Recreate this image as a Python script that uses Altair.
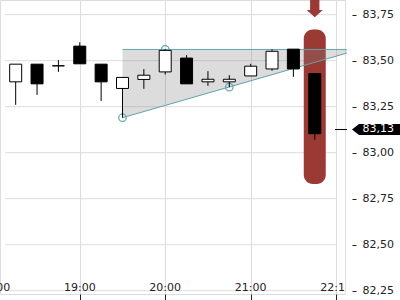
import altair as alt
import pandas as pd

# ---- data ----
times = ["18:15", "18:30", "18:45", "19:00", "19:15", "19:30", "19:45", "20:00",
         "20:15", "20:30", "20:45", "21:00", "21:15", "21:30", "21:45"]
opens = [83.385, 83.481, 83.472, 83.579, 83.481, 83.349, 83.398, 83.439,
         83.514, 83.385, 83.385, 83.417, 83.455, 83.5625, 83.430]
highs = [83.481, 83.481, 83.503, 83.600, 83.481, 83.409, 83.454, 83.562,
         83.530, 83.443, 83.421, 83.483, 83.561, 83.5625, 83.430]
lows = [83.260, 83.314, 83.439, 83.483, 83.281, 83.190, 83.347, 83.425,
        83.374, 83.363, 83.356, 83.417, 83.445, 83.412, 83.070]
closes = [83.481, 83.374, 83.472, 83.483, 83.385, 83.409, 83.421, 83.556,
          83.374, 83.399, 83.399, 83.470, 83.551, 83.455, 83.103]

x_tick_minutes = [0, 60, 120, 180, 240]
x_tick_labels = ["18:00", "19:00", "20:00", "21:00", "22:15"]
y_ticks = [82.25, 82.50, 82.75, 83.00, 83.25, 83.50, 83.75]

tri_minutes = [90, 247.5]
tri_top = [83.561, 83.561]
tri_bottom = [83.19, 83.541]

pivot_minutes = [90, 120, 165]
pivot_prices = [83.19, 83.561, 83.356]

highlight_time = "21:45"
highlight_top = 83.67
highlight_bottom = 82.83

last_price = 83.126


def to_min(t):
    h, m = t.split(":")
    return (int(h) - 18) * 60 + int(m)


candles = pd.DataFrame({
    "t": [to_min(t) for t in times],
    "open": opens, "high": highs, "low": lows, "close": closes,
})
candles["dir"] = ["up" if c >= o else "down" for o, c in zip(opens, closes)]

grid_df = pd.DataFrame({"v": y_ticks, "x0": 7.5, "x1": 240})
xlab_df = pd.DataFrame({"m": x_tick_minutes, "lbl": x_tick_labels})
tri_df = pd.DataFrame({"m": tri_minutes, "top": tri_top, "bottom": tri_bottom})
seg_df = pd.DataFrame({
    "m0": [tri_minutes[0], tri_minutes[0]], "m1": [tri_minutes[1], tri_minutes[1]],
    "p0": [tri_top[0], tri_bottom[0]], "p1": [tri_top[1], tri_bottom[1]],
})
piv_df = pd.DataFrame({"m": pivot_minutes, "p": pivot_prices})
hl_df = pd.DataFrame({"t": [to_min(highlight_time)], "top": [highlight_top],
                      "bottom": [highlight_bottom]})
price_df = pd.DataFrame({"p": [last_price]})

RED = "#9b3a34"
TEAL = "#62a3ab"
GRID = "#dcdcdc"
FONT = "DejaVu Sans"

xs = alt.Scale(domain=[7.5, 242.73], nice=False, zero=False)
ys = alt.Scale(domain=[82.232, 83.8297], nice=False, zero=False)

xaxis = alt.Axis(values=x_tick_minutes[1:], labels=False, domain=False, ticks=True,
                 tickSize=6, tickColor="#222", grid=True, gridColor=GRID, title=None)
yaxis = alt.Axis(orient="right", values=y_ticks, offset=7, tickSize=4, labelPadding=6,
                 domain=False, grid=False, tickColor="#222", labelColor="#222",
                 labelFont=FONT, labelFontSize=11, labelOverlap=False,
                 labelExpr="replace(format(datum.value, '.2f'), '.', ',')", title=None)

grid = alt.Chart(grid_df).mark_rule(color=GRID, strokeWidth=1).encode(
    x=alt.X("x0:Q", scale=xs, axis=xaxis),
    x2="x1:Q",
    y=alt.Y("v:Q", scale=ys, axis=yaxis),
)

highlight = alt.Chart(hl_df).mark_bar(color=RED, size=22, cornerRadius=9).encode(
    x=alt.X("t:Q", scale=xs), y=alt.Y("top:Q", scale=ys), y2="bottom:Q"
)

tri = alt.Chart(tri_df).mark_area(color="#808080", opacity=0.28, clip=False).encode(
    x=alt.X("m:Q", scale=xs), y=alt.Y("top:Q", scale=ys), y2="bottom:Q"
)

segs = alt.Chart(seg_df).mark_rule(color=TEAL, strokeWidth=1).encode(
    x=alt.X("m0:Q", scale=xs), x2="m1:Q", y=alt.Y("p0:Q", scale=ys), y2="p1:Q"
)

pivots = alt.Chart(piv_df).mark_point(shape="circle", size=56, filled=False,
                                      color=TEAL, strokeWidth=1.2, opacity=1).encode(
    x=alt.X("m:Q", scale=xs), y=alt.Y("p:Q", scale=ys)
)

wicks = alt.Chart(candles).mark_rule(color="black", strokeWidth=1).encode(
    x=alt.X("t:Q", scale=xs), y=alt.Y("low:Q", scale=ys), y2="high:Q"
)

bodies = alt.Chart(candles).mark_bar(size=12, stroke="black", strokeWidth=1).encode(
    x=alt.X("t:Q", scale=xs), y=alt.Y("open:Q", scale=ys), y2="close:Q",
    color=alt.Color("dir:N", scale=alt.Scale(domain=["up", "down"], range=["white", "black"]),
                    legend=None),
)

price_tick = alt.Chart(price_df).mark_rule(color="black", strokeWidth=1).encode(
    x=alt.value(335), x2=alt.value(347), y=alt.Y("p:Q", scale=ys)
)

TAG = "M-1,0L-0.708,-0.229L1,-0.229L1,0.229L-0.708,0.229Z"
tag = alt.Chart(price_df).mark_point(shape=TAG, size=2304, filled=True, color="black",
                                     opacity=1, strokeWidth=0).encode(
    x=alt.value(376), y=alt.Y("p:Q", scale=ys)
)

tag_text = alt.Chart(price_df).transform_calculate(
    lbl="replace(format(datum.p, '.2f'), '.', ',')"
).mark_text(align="left", baseline="middle", color="white", font=FONT, fontSize=11).encode(
    x=alt.value(362.5), y=alt.Y("p:Q", scale=ys), text="lbl:N"
)

ARROW = ("M-0.517,-0.96L0.517,-0.96L0.517,0.15L0.889,0.15L0,0.96L-0.889,0.15"
         "L-0.517,0.15Z")
arrow = alt.Chart(hl_df).mark_point(shape=ARROW, size=324, filled=True, color=RED,
                                    opacity=1, strokeWidth=0).encode(
    x=alt.X("t:Q", scale=xs), y=alt.value(8.65)
)

xlabels = alt.Chart(xlab_df).mark_text(clip=True, baseline="alphabetic", align="center",
                                       font=FONT, fontSize=11, color="#222").encode(
    x=alt.X("m:Q", scale=xs), y=alt.value(291), text="lbl:N"
)

chart = alt.layer(
    grid, highlight, tri, segs, pivots, wicks, bodies, price_tick, tag, tag_text,
    arrow, xlabels
).properties(
    width=345, height=294,
    autosize=alt.AutoSizeParams(type="none"),
    padding={"left": 0, "top": 0, "right": 55, "bottom": 6},
).configure_view(strokeWidth=0).configure(background="white")

chart.save("out.html", embed_options={"renderer": "svg", "actions": False})
